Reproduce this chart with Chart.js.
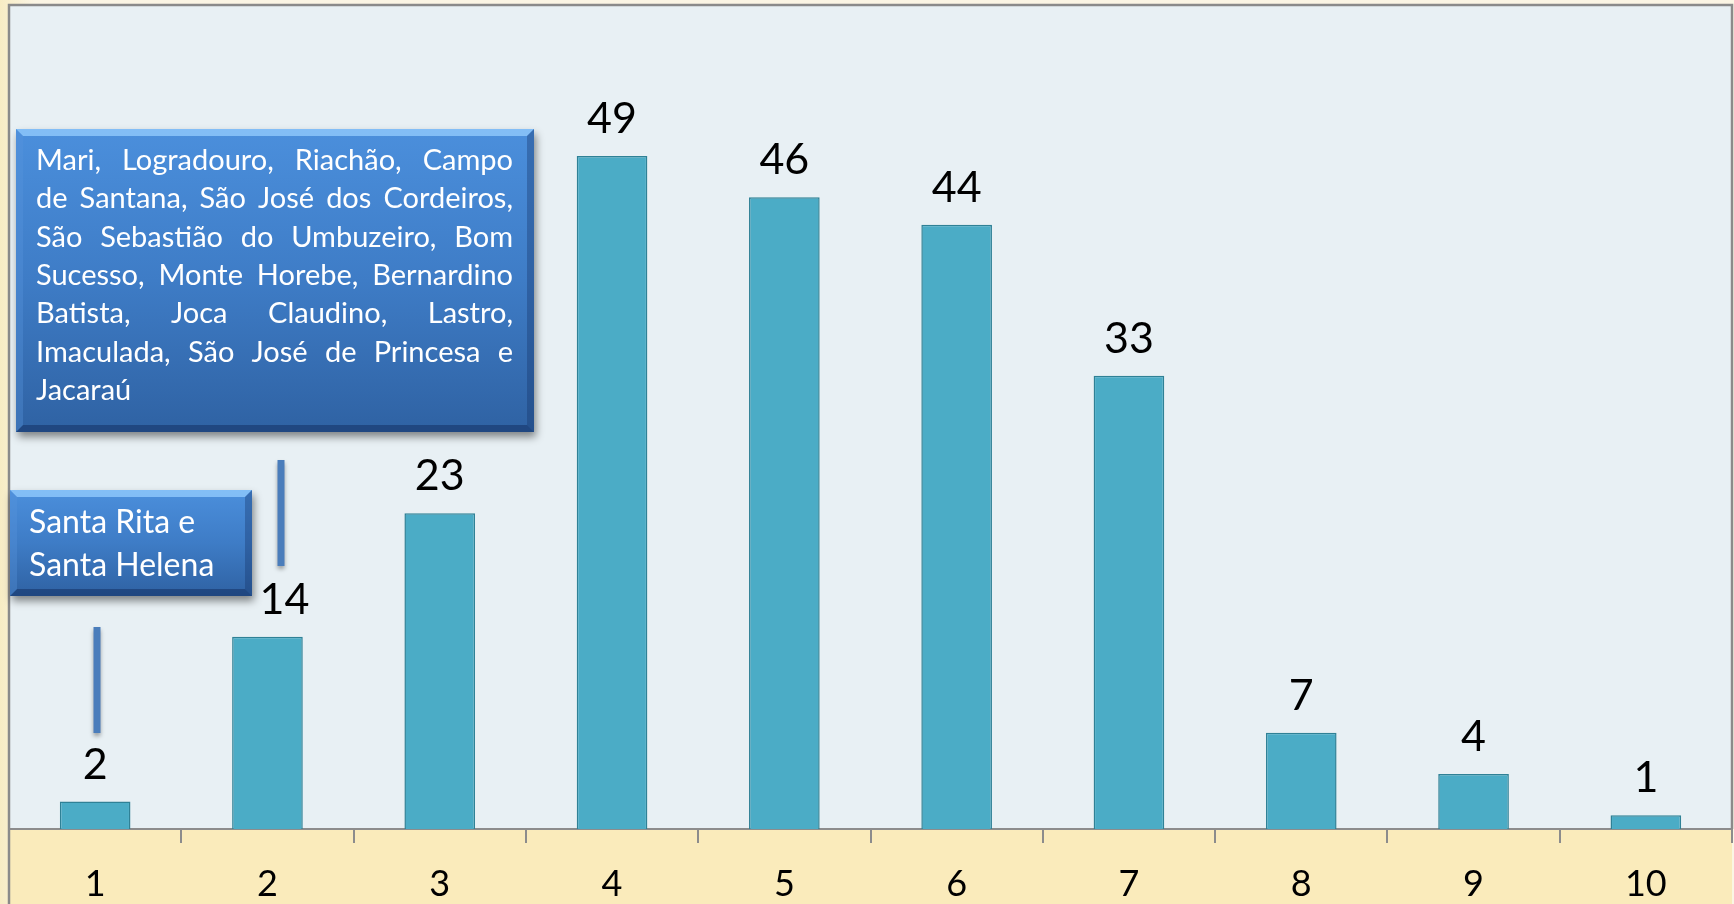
<!DOCTYPE html>
<html>
<head>
<meta charset="utf-8">
<script src="https://cdn.jsdelivr.net/npm/chart.js@4.4.0/dist/chart.umd.min.js"></script>
<style>
  html, body { margin: 0; padding: 0; background: #fbf4dc; }
  #wrap { width: 1734px; height: 904px; position: relative; }
  canvas { display: block; }
</style>
</head>
<body>
<div id="wrap"><canvas id="c" width="1734" height="904"></canvas></div>
<script>
// ---- data ----
const categories = ['1', '2', '3', '4', '5', '6', '7', '8', '9', '10'];
const counts = [2, 14, 23, 49, 46, 44, 33, 7, 4, 1];
const bigNoteLines = [
  'Mari, Logradouro, Riachão, Campo',
  'de Santana, São José dos Cordeiros,',
  'São Sebastião do Umbuzeiro, Bom',
  'Sucesso, Monte Horebe, Bernardino',
  'Batista, Joca Claudino, Lastro,',
  'Imaculada, São José de Princesa e',
  'Jacaraú'
];
const smallNoteLines = ['Santa Rita e', 'Santa Helena'];

// ---- helpers ----
function drawBevelBox(ctx, x, y, w, h) {
  ctx.save();
  ctx.shadowColor = 'rgba(0,0,0,0.45)';
  ctx.shadowBlur = 8;
  ctx.shadowOffsetX = 2;
  ctx.shadowOffsetY = 5;
  const g = ctx.createLinearGradient(0, y, 0, y + h);
  g.addColorStop(0, '#4b8fdc');
  g.addColorStop(0.5, '#3e7cc6');
  g.addColorStop(1, '#2f62a3');
  ctx.fillStyle = g;
  ctx.fillRect(x, y, w, h);
  ctx.restore();
  const b = 7;
  ctx.save();
  ctx.beginPath();
  ctx.moveTo(x, y); ctx.lineTo(x + w, y); ctx.lineTo(x + w - b, y + b); ctx.lineTo(x + b, y + b); ctx.closePath();
  ctx.fillStyle = 'rgba(150,205,255,0.75)';
  ctx.fill();
  ctx.beginPath();
  ctx.moveTo(x, y + h); ctx.lineTo(x + w, y + h); ctx.lineTo(x + w - b, y + h - b); ctx.lineTo(x + b, y + h - b); ctx.closePath();
  ctx.fillStyle = 'rgba(20,50,100,0.55)';
  ctx.fill();
  ctx.beginPath();
  ctx.moveTo(x, y); ctx.lineTo(x + b, y + b); ctx.lineTo(x + b, y + h - b); ctx.lineTo(x, y + h); ctx.closePath();
  ctx.fillStyle = 'rgba(90,150,220,0.35)';
  ctx.fill();
  ctx.beginPath();
  ctx.moveTo(x + w, y); ctx.lineTo(x + w - b, y + b); ctx.lineTo(x + w - b, y + h - b); ctx.lineTo(x + w, y + h); ctx.closePath();
  ctx.fillStyle = 'rgba(20,50,100,0.35)';
  ctx.fill();
  ctx.restore();
}

function drawJustifiedLine(ctx, text, x, y, width, justify) {
  const words = text.split(/\s+/);
  if (!justify || words.length < 2) { ctx.fillText(text, x, y); return; }
  const ww = words.map(w => ctx.measureText(w).width);
  const total = ww.reduce((a, b) => a + b, 0);
  const gap = (width - total) / (words.length - 1);
  let cx = x;
  words.forEach((w, i) => { ctx.fillText(w, cx, y); cx += ww[i] + gap; });
}

function drawConnector(ctx, x, y1, y2) {
  ctx.save();
  ctx.shadowColor = 'rgba(0,0,0,0.35)';
  ctx.shadowBlur = 4;
  ctx.shadowOffsetY = 3;
  ctx.strokeStyle = '#4a7dbb';
  ctx.lineWidth = 7;
  ctx.beginPath();
  ctx.moveTo(x, y1); ctx.lineTo(x, y2);
  ctx.stroke();
  ctx.restore();
}

// ---- plugins ----
const backgroundPlugin = {
  id: 'bg',
  beforeDraw(chart) {
    const { ctx, chartArea: a, width, height } = chart;
    ctx.save();
    const g = ctx.createLinearGradient(0, 0, width, 0);
    g.addColorStop(0, '#f7ecc4');
    g.addColorStop(0.02, '#fbf5e4');
    g.addColorStop(1, '#fbf5e4');
    ctx.fillStyle = g;
    ctx.fillRect(0, 0, width, height);
    ctx.fillStyle = '#e8f0f4';
    ctx.fillRect(a.left, a.top, a.right - a.left, a.bottom - a.top);
    ctx.fillStyle = '#faebbb';
    ctx.fillRect(a.left, a.bottom, a.right - a.left, height - a.bottom);
    ctx.restore();
  },
  afterDraw(chart) {
    const { ctx, chartArea: a, height } = chart;
    ctx.save();
    ctx.strokeStyle = '#8a8a8a';
    ctx.lineWidth = 2.5;
    ctx.beginPath();
    ctx.moveTo(a.left, height);
    ctx.lineTo(a.left, a.top);
    ctx.lineTo(a.right, a.top);
    ctx.lineTo(a.right, a.bottom);
    ctx.stroke();
    ctx.restore();
  }
};

const valueLabelPlugin = {
  id: 'valueLabels',
  afterDatasetsDraw(chart, args, opts) {
    const { ctx } = chart;
    const meta = chart.getDatasetMeta(0);
    const shifts = opts.shiftX || {};
    ctx.save();
    ctx.fillStyle = '#000';
    ctx.font = '43px Lato';
    ctx.textAlign = 'center';
    ctx.textBaseline = 'alphabetic';
    meta.data.forEach((el, i) => {
      ctx.fillText(String(chart.data.datasets[0].data[i]), el.x + (shifts[i] || 0), el.y - 23);
    });
    ctx.restore();
  }
};

const notesPlugin = {
  id: 'notes',
  afterDraw(chart) {
    const { ctx } = chart;
    drawConnector(ctx, 97, 627, 733);
    drawConnector(ctx, 281, 460, 566);
    drawBevelBox(ctx, 16, 129, 518, 303);
    ctx.save();
    ctx.fillStyle = '#ffffff';
    ctx.font = '29px Lato';
    ctx.textBaseline = 'alphabetic';
    ctx.textAlign = 'left';
    bigNoteLines.forEach((line, i) => {
      drawJustifiedLine(ctx, line, 36, 170 + i * 38.3, 477, i < bigNoteLines.length - 1);
    });
    ctx.restore();
    drawBevelBox(ctx, 10, 490, 242, 106);
    ctx.save();
    ctx.fillStyle = '#ffffff';
    ctx.font = '32px Lato';
    ctx.textBaseline = 'alphabetic';
    ctx.textAlign = 'left';
    smallNoteLines.forEach((line, i) => {
      ctx.fillText(line, 29, 533 + i * 43);
    });
    ctx.restore();
  }
};

new Chart(document.getElementById('c'), {
  type: 'bar',
  data: {
    labels: categories,
    datasets: [{
      data: counts,
      backgroundColor: '#4bacc6',
      borderColor: '#2f8196',
      borderWidth: 1.5,
      borderSkipped: 'bottom',
      barPercentage: 0.41,
      categoryPercentage: 1.0
    }]
  },
  options: {
    responsive: false,
    animation: false,
    devicePixelRatio: 1,
    layout: { padding: { left: 9, right: 2, top: 5, bottom: 0 } },
    plugins: {
      legend: { display: false },
      tooltip: { enabled: false },
      title: { display: false },
      valueLabels: { shiftX: { 1: 17 } }
    },
    scales: {
      x: {
        afterFit(scale) { scale.height = 75; },
        grid: {
          display: true,
          offset: true,
          drawOnChartArea: false,
          drawTicks: true,
          tickLength: 14,
          color: '#8c8c8c',
          lineWidth: 2
        },
        border: { display: true, color: '#8c8c8c', width: 2 },
        ticks: {
          color: '#000',
          font: { family: 'Lato', size: 36 },
          padding: 20,
          maxRotation: 0
        }
      },
      y: {
        display: false,
        min: 0,
        max: 60
      }
    }
  },
  plugins: [backgroundPlugin, valueLabelPlugin, notesPlugin]
});
</script>
</body>
</html>
